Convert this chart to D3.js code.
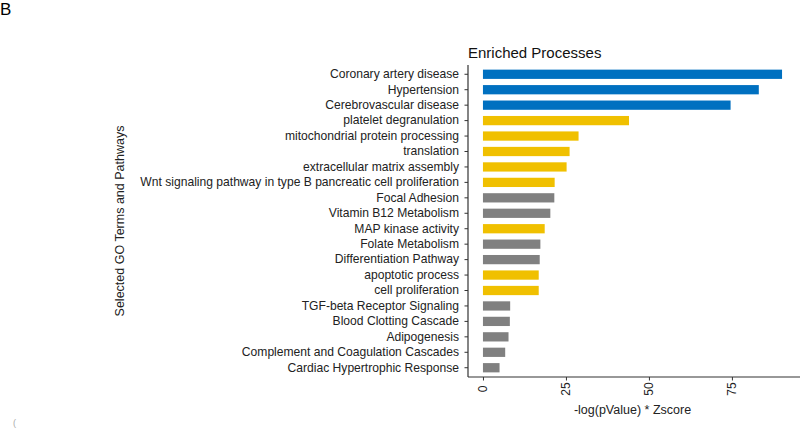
<!DOCTYPE html>
<html>
<head>
<meta charset="utf-8">
<script src="https://cdn.jsdelivr.net/npm/d3@7"></script>
<style>
  html, body { margin: 0; padding: 0; background: #fff; }
  svg { display: block; font-family: "Liberation Sans", Arial, sans-serif; }
</style>
</head>
<body>
<svg id="chart" width="800" height="430"></svg>
<script>
// ---- data ----
const categories = [
  "Coronary artery disease",
  "Hypertension",
  "Cerebrovascular disease",
  "platelet degranulation",
  "mitochondrial protein processing",
  "translation",
  "extracellular matrix assembly",
  "Wnt signaling pathway in type B pancreatic cell proliferation",
  "Focal Adhesion",
  "Vitamin B12 Metabolism",
  "MAP kinase activity",
  "Folate Metabolism",
  "Differentiation Pathway",
  "apoptotic process",
  "cell proliferation",
  "TGF-beta Receptor Signaling",
  "Blood Clotting Cascade",
  "Adipogenesis",
  "Complement and Coagulation Cascades",
  "Cardiac Hypertrophic Response"
];
const values = [90.1, 83.1, 74.6, 44.0, 28.8, 26.1, 25.2, 21.6, 21.5, 20.3,
                18.6, 17.3, 17.1, 16.8, 16.8, 8.2, 8.1, 7.7, 6.7, 5.0];
const groups = ["Disease", "Disease", "Disease", "GO", "GO", "GO", "GO", "GO", "Pathway", "Pathway",
                "GO", "Pathway", "Pathway", "GO", "GO", "Pathway", "Pathway", "Pathway", "Pathway", "Pathway"];
const groupNames = ["Disease", "GO", "Pathway"];
const groupColors = ["#0070C0", "#F0C000", "#808080"];
const xTicks = [0, 25, 50, 75];

// ---- layout ----
const svg = d3.select("#chart");
const panel = { left: 468, right: 797, top: 65, bottom: 377 };

const xMax = d3.max(values);
const x = d3.scaleLinear()
  .domain([-0.05 * xMax, xMax * 1.05])
  .range([panel.left, panel.right]);

const y = d3.scaleBand()
  .domain(categories)
  .range([panel.top, panel.bottom])
  .paddingInner(0.4)
  .paddingOuter(0.3);

const color = d3.scaleOrdinal().domain(groupNames).range(groupColors);

const rows = categories.map((c, i) => ({ name: c, value: values[i], group: groups[i] }));

// bars
svg.append("g").selectAll("rect")
  .data(rows)
  .join("rect")
  .attr("x", x(0))
  .attr("y", d => y(d.name))
  .attr("width", d => x(d.value) - x(0))
  .attr("height", y.bandwidth())
  .attr("fill", d => color(d.group));

// y axis
const yAxis = svg.append("g")
  .attr("transform", `translate(${panel.left},0)`)
  .call(d3.axisLeft(y).tickSize(3.5).tickPadding(5.5));
yAxis.select(".domain").attr("stroke", "#333").attr("stroke-width", 1.2)
  .attr("d", `M0,${panel.top}V${panel.bottom}`);
yAxis.selectAll(".tick line").attr("stroke", "#333");
yAxis.selectAll(".tick text")
  .attr("fill", "#222")
  .style("font-size", "12.1px");

// x axis
const xAxis = svg.append("g")
  .attr("transform", `translate(0,${panel.bottom})`)
  .call(d3.axisBottom(x).tickValues(xTicks).tickSize(3.5).tickFormat(d3.format("d")));
xAxis.select(".domain").attr("stroke", "#333").attr("stroke-width", 1.2)
  .attr("d", `M${panel.left},0H${panel.right + 3}`);
xAxis.selectAll(".tick line").attr("stroke", "#333");
xAxis.selectAll(".tick text")
  .attr("fill", "#222")
  .style("font-size", "12.1px")
  .attr("text-anchor", "middle")
  .attr("dominant-baseline", "central")
  .attr("dy", null)
  .attr("y", 0)
  .attr("transform", "translate(0,12) rotate(-90)");

// titles
svg.append("text")
  .attr("x", panel.left)
  .attr("y", 58)
  .attr("fill", "#111")
  .style("font-size", "15px")
  .text("Enriched Processes");

svg.append("text")
  .attr("x", (panel.left + panel.right) / 2)
  .attr("y", 414)
  .attr("text-anchor", "middle")
  .attr("fill", "#222")
  .style("font-size", "12.5px")
  .text("-log(pValue) * Zscore");

svg.append("text")
  .attr("transform", `translate(124,${(panel.top + panel.bottom) / 2}) rotate(-90)`)
  .attr("text-anchor", "middle")
  .attr("fill", "#222")
  .style("font-size", "12.5px")
  .text("Selected GO Terms and Pathways");

// panel letter
svg.append("text")
  .attr("x", 0)
  .attr("y", 15)
  .attr("fill", "#000")
  .style("font-size", "17px")
  .text("B");

svg.append("text")
  .attr("x", 13)
  .attr("y", 426)
  .attr("fill", "#aaa")
  .style("font-size", "9px")
  .text("(");
</script>
</body>
</html>
